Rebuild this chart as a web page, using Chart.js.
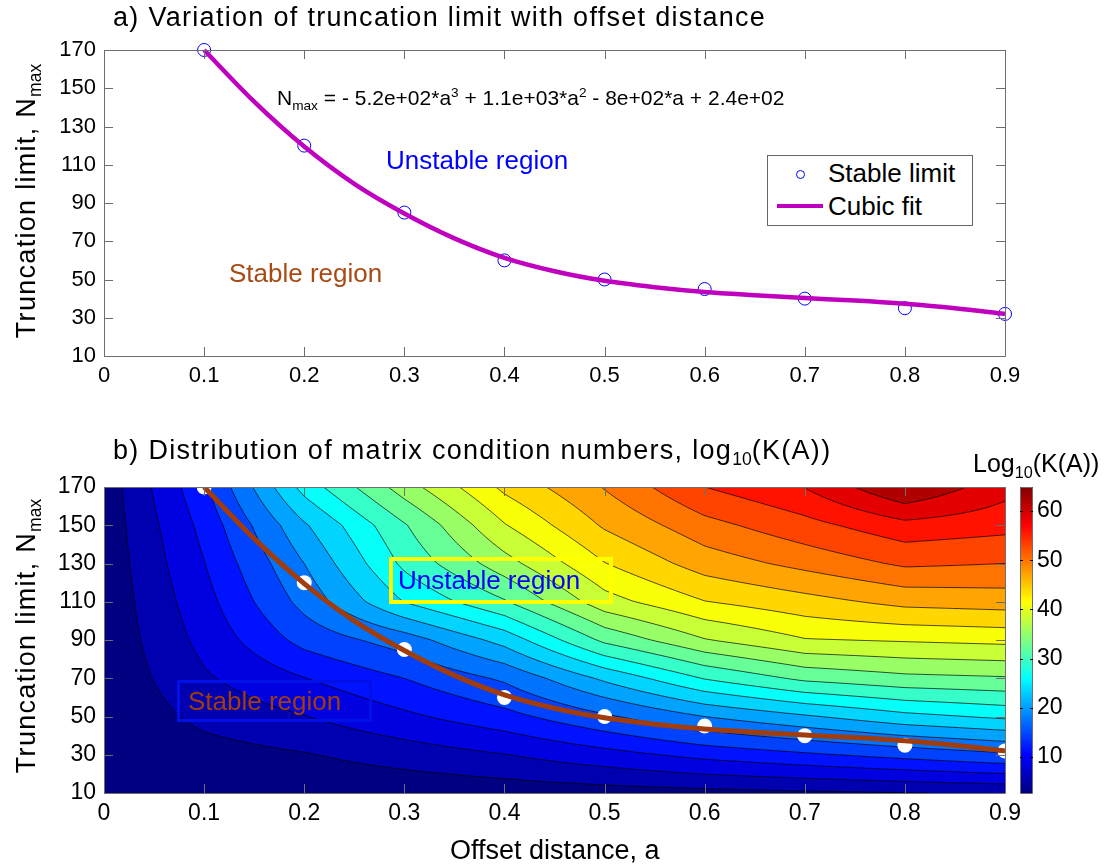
<!DOCTYPE html>
<html>
<head>
<meta charset="utf-8">
<script src="https://cdn.jsdelivr.net/npm/chart.js@4.4.0/dist/chart.umd.min.js"></script>
<style>
body { margin: 0; background: #fff; width: 1104px; height: 867px; position: relative; overflow: hidden;
       font-family: "Liberation Sans", Arial, sans-serif; color: #000; }
canvas { position: absolute; }
.txt { position: absolute; white-space: nowrap; line-height: 1; }
.title { letter-spacing: 1.3px; font-size: 27px; }
.rot { position: absolute; white-space: nowrap; line-height: 1; font-size: 27px; letter-spacing: 1.3px;
       transform: translate(-50%, -50%) rotate(-90deg); }
sub, sup { font-size: 65%; line-height: 0; letter-spacing: 0; }
</style>
</head>
<body>
<canvas id="topChart" width="1104" height="400" style="left:0;top:0"></canvas>
<canvas id="bottomChart" width="1104" height="467" style="left:0;top:400px"></canvas>
<canvas id="barChart" width="104" height="467" style="left:1000px;top:400px"></canvas>

<div class="txt title" style="left:113px;top:4px">a) Variation of truncation limit with offset distance</div>
<div class="rot" style="left:26px;top:201px">Truncation limit, N<sub>max</sub></div>
<div class="txt" style="left:277px;top:87px;font-size:21px">N<sub>max</sub> = - 5.2e+02*a<sup>3</sup> + 1.1e+03*a<sup>2</sup> - 8e+02*a + 2.4e+02</div>
<div class="txt" style="left:386px;top:147px;font-size:26px;color:#0000ff">Unstable region</div>
<div class="txt" style="left:229px;top:260px;font-size:26px;color:#a84a14">Stable region</div>
<div id="legend" style="position:absolute;left:767px;top:155px;width:204px;height:69px;border:1px solid #666;background:#fff">
  <div style="position:absolute;left:28px;top:14px;width:7px;height:7px;border:1px solid #0000ff;border-radius:50%"></div>
  <div style="position:absolute;left:9px;top:48px;width:46px;height:4px;background:#bf00bf"></div>
  <div class="txt" style="left:60px;top:4px;font-size:26px">Stable limit</div>
  <div class="txt" style="left:60px;top:37px;font-size:26px">Cubic fit</div>
</div>

<div class="txt title" style="left:113px;top:437px">b) Distribution of matrix condition numbers, log<sub>10</sub>(K(A))</div>
<div class="txt" style="left:973px;top:451px;font-size:25px">Log<sub>10</sub>(K(A))</div>
<div class="rot" style="left:26px;top:636px">Truncation limit, N<sub>max</sub></div>
<div class="txt" style="left:450px;top:837px;font-size:27px">Offset distance, a</div>
<div style="position:absolute;left:389px;top:557px;width:216px;height:39px;border:4px solid #ffff00"></div>
<div class="txt" style="left:398px;top:567px;font-size:26px;color:#0000ff">Unstable region</div>
<div style="position:absolute;left:177px;top:680px;width:189px;height:36px;border:3px solid #0010e6"></div>
<div class="txt" style="left:188px;top:688px;font-size:26px;color:#a13c0c">Stable region</div>

<script>
// axes
const xTicks = [0, 0.1, 0.2, 0.3, 0.4, 0.5, 0.6, 0.7, 0.8, 0.9];
const yTicks = [10, 30, 50, 70, 90, 110, 130, 150, 170];
const barTicks = [10, 20, 30, 40, 50, 60];

// stable limit found for each offset distance
const stableA = [0.1, 0.2, 0.3, 0.4, 0.5, 0.6, 0.7, 0.8, 0.9];
const stableN = [170, 120, 85, 60, 50, 45, 40, 35, 32];

// cubic fit
const fitA = [0.1, 0.15, 0.2, 0.25, 0.3, 0.35, 0.4, 0.45, 0.5, 0.55, 0.6, 0.65, 0.7, 0.75, 0.8, 0.85, 0.9];
const fitN = [170, 143, 119.5, 100, 84.5, 71.5, 61.3, 54.3, 49.3, 46, 43.5, 41.8, 40.3, 39, 37.3, 35, 32];

// log10(K(A)) grid, rows = nValues (bottom to top), columns = aValues
const aValues = [0, 0.1, 0.2, 0.3, 0.4, 0.5, 0.6, 0.7, 0.8, 0.9];
const nValues = [10, 30, 50, 70, 90, 110, 130, 150, 170];
const logK = [
    [2.7, 3.0, 3.3, 3.6, 4.0, 4.4, 4.8, 5.2, 5.6, 6.0],
    [3.0, 4.5, 5.5, 7.0, 8.5, 10.5, 12.5, 14.0, 15.5, 17.0],
    [3.2, 6.5, 8.5, 11.0, 13.5, 17.0, 20.5, 23.0, 25.5, 27.0],
    [3.4, 8.2, 11.5, 14.5, 18.0, 24.0, 29.5, 33.0, 34.5, 35.0],
    [3.5, 9.5, 15.5, 19.0, 24.5, 33.0, 38.0, 41.0, 41.5, 42.0],
    [3.6, 10.5, 18.5, 26.5, 32.0, 40.0, 44.0, 46.0, 48.0, 48.5],
    [3.7, 11.5, 20.5, 30.0, 37.0, 44.0, 48.5, 51.0, 53.5, 53.0],
    [3.8, 12.5, 23.0, 32.0, 41.0, 47.5, 52.0, 55.0, 58.0, 57.0],
    [3.9, 13.9, 27.5, 36.8, 44.8, 50.3, 56.0, 59.0, 64.9, 60.0]
];
const contourLevels = [5.7, 8.6, 11.6, 14.5, 17.5, 20.5, 23.4, 26.4, 29.3, 32.3,
    35.3, 38.2, 41.2, 44.1, 47.1, 50.1, 53.0, 56.0, 58.9, 61.9];

const zMin = Math.min(...logK.flat());
const zMax = Math.max(...logK.flat());

const FONT = 'Liberation Sans';
const AXIS_COLOR = '#6e6e6e';

// jet colormap, t in [0,1] -> [r,g,b] 0..255
const jet = t => {
    const c = v => Math.round(255 * Math.max(0, Math.min(1, v)));
    return [c(1.5 - Math.abs(4 * t - 3)), c(1.5 - Math.abs(4 * t - 2)), c(1.5 - Math.abs(4 * t - 1))];
};
const bandColors = [zMin, ...contourLevels].map(v => jet((v - zMin) / (zMax - zMin)));

const locate = (arr, v) => {
    let i = 0;
    while (i < arr.length - 2 && v > arr[i + 1]) i++;
    const f = (v - arr[i]) / (arr[i + 1] - arr[i]);
    return [i, Math.max(0, Math.min(1, f))];
};
const sampleLogK = (a, n) => {
    const [i, fa] = locate(aValues, a);
    const [j, fn] = locate(nValues, n);
    return (1 - fa) * (1 - fn) * logK[j][i] + fa * (1 - fn) * logK[j][i + 1]
        + (1 - fa) * fn * logK[j + 1][i] + fa * fn * logK[j + 1][i + 1];
};
const bandIndex = z => {
    let k = 0;
    while (k < contourLevels.length && z >= contourLevels[k]) k++;
    return k;
};

// filled contours + contour lines, drawn under the datasets
const contourPlugin = {
    id: 'contourFill',
    beforeDatasetsDraw(chart) {
        const { ctx, chartArea: ca, scales: { x, y } } = chart;
        const left = Math.round(ca.left), top = Math.round(ca.top);
        const w = Math.round(ca.right) - left, h = Math.round(ca.bottom) - top;
        const img = ctx.createImageData(w, h);
        for (let j = 0; j < h; j++) {
            const n = y.getValueForPixel(top + j + 0.5);
            for (let i = 0; i < w; i++) {
                const c = bandColors[bandIndex(sampleLogK(x.getValueForPixel(left + i + 0.5), n))];
                const p = (j * w + i) * 4;
                img.data[p] = c[0];
                img.data[p + 1] = c[1];
                img.data[p + 2] = c[2];
                img.data[p + 3] = 255;
            }
        }
        ctx.putImageData(img, left, top);

        // contour lines (marching squares on a fine pixel grid)
        const step = 2;
        const cols = Math.ceil(w / step) + 1, rows = Math.ceil(h / step) + 1;
        const px = c => left + Math.min(c * step, w);
        const py = r => top + Math.min(r * step, h);
        const zs = new Float32Array(cols * rows);
        for (let r = 0; r < rows; r++) {
            const n = y.getValueForPixel(py(r));
            for (let c = 0; c < cols; c++) zs[r * cols + c] = sampleLogK(x.getValueForPixel(px(c)), n);
        }
        ctx.save();
        ctx.beginPath();
        ctx.rect(ca.left, ca.top, ca.right - ca.left, ca.bottom - ca.top);
        ctx.clip();
        ctx.strokeStyle = 'rgba(0,0,0,0.85)';
        ctx.lineWidth = 0.8;
        ctx.beginPath();
        contourLevels.forEach(L => {
            for (let r = 0; r < rows - 1; r++) {
                for (let c = 0; c < cols - 1; c++) {
                    const corners = [
                        [px(c), py(r), zs[r * cols + c]],
                        [px(c + 1), py(r), zs[r * cols + c + 1]],
                        [px(c + 1), py(r + 1), zs[(r + 1) * cols + c + 1]],
                        [px(c), py(r + 1), zs[(r + 1) * cols + c]]
                    ];
                    const pts = [];
                    for (let e = 0; e < 4; e++) {
                        const p = corners[e], q = corners[(e + 1) % 4];
                        if ((p[2] < L) !== (q[2] < L)) {
                            const t = (L - p[2]) / (q[2] - p[2]);
                            pts.push([p[0] + t * (q[0] - p[0]), p[1] + t * (q[1] - p[1])]);
                        }
                    }
                    if (pts.length >= 2) { ctx.moveTo(pts[0][0], pts[0][1]); ctx.lineTo(pts[1][0], pts[1][1]); }
                    if (pts.length === 4) { ctx.moveTo(pts[2][0], pts[2][1]); ctx.lineTo(pts[3][0], pts[3][1]); }
                }
            }
        });
        ctx.stroke();
        ctx.restore();
    }
};

// MATLAB style box with inward ticks
const boxPlugin = {
    id: 'matlabBox',
    afterDatasetsDraw(chart, args, opts) {
        const { ctx, chartArea: ca, scales: { x, y } } = chart;
        const len = 9;
        ctx.save();
        ctx.strokeStyle = opts.color || AXIS_COLOR;
        ctx.lineWidth = 1;
        ctx.beginPath();
        ctx.rect(Math.round(ca.left) + 0.5, Math.round(ca.top) + 0.5,
            Math.round(ca.right - ca.left), Math.round(ca.bottom - ca.top));
        xTicks.forEach(v => {
            const px = Math.round(x.getPixelForValue(v)) + 0.5;
            ctx.moveTo(px, ca.bottom); ctx.lineTo(px, ca.bottom - len);
            ctx.moveTo(px, ca.top); ctx.lineTo(px, ca.top + len);
        });
        yTicks.forEach(v => {
            const py = Math.round(y.getPixelForValue(v)) + 0.5;
            ctx.moveTo(ca.left, py); ctx.lineTo(ca.left + len, py);
            ctx.moveTo(ca.right, py); ctx.lineTo(ca.right - len, py);
        });
        ctx.stroke();
        ctx.restore();
    }
};

// continuous jet colour bar
const colorBarPlugin = {
    id: 'colorBar',
    beforeDatasetsDraw(chart) {
        const { ctx, chartArea: ca, scales: { y } } = chart;
        for (let py = Math.round(ca.top); py < Math.round(ca.bottom); py++) {
            const c = jet((y.getValueForPixel(py + 0.5) - zMin) / (zMax - zMin));
            ctx.fillStyle = 'rgb(' + c.join(',') + ')';
            ctx.fillRect(ca.left, py, ca.right - ca.left, 1);
        }
        ctx.save();
        ctx.strokeStyle = AXIS_COLOR;
        ctx.lineWidth = 1;
        ctx.beginPath();
        ctx.rect(Math.round(ca.left) + 0.5, Math.round(ca.top) + 0.5,
            Math.round(ca.right - ca.left) - 1, Math.round(ca.bottom - ca.top));
        ctx.stroke();
        ctx.strokeStyle = '#000';
        ctx.beginPath();
        barTicks.forEach(v => {
            const py = Math.round(y.getPixelForValue(v)) + 0.5;
            ctx.moveTo(ca.left, py); ctx.lineTo(ca.left + 3, py);
            ctx.moveTo(ca.right, py); ctx.lineTo(ca.right - 3, py);
        });
        ctx.stroke();
        ctx.restore();
    }
};

const fmtA = v => (v === 0 ? '0' : v.toFixed(1));

const makeScales = (xHeight, fontSize) => ({
    x: {
        type: 'linear', min: 0, max: 0.9,
        grid: { display: false, drawTicks: false }, border: { display: false },
        afterBuildTicks: scale => { scale.ticks = xTicks.map(v => ({ value: v })); },
        afterFit: scale => { scale.height = xHeight; },
        ticks: { callback: fmtA, padding: 7, maxRotation: 0, autoSkip: false,
                 color: '#000', font: { family: FONT, size: fontSize } }
    },
    y: {
        type: 'linear', min: 10, max: 170,
        grid: { display: false, drawTicks: false }, border: { display: false },
        afterBuildTicks: scale => { scale.ticks = yTicks.map(v => ({ value: v })); },
        afterFit: scale => { scale.width = 104; },
        ticks: { padding: 8, autoSkip: false, color: '#000', font: { family: FONT, size: fontSize } }
    }
});

new Chart(document.getElementById('topChart').getContext('2d'), {
    type: 'line',
    data: {
        datasets: [{
            label: 'Cubic fit',
            data: fitA.map((a, i) => ({ x: a, y: fitN[i] })),
            borderColor: '#bf00bf',
            borderWidth: 4.5,
            pointRadius: 0,
            cubicInterpolationMode: 'monotone',
            clip: false
        }, {
            label: 'Stable limit',
            data: stableA.map((a, i) => ({ x: a, y: stableN[i] })),
            showLine: false,
            pointStyle: 'circle',
            pointRadius: 6.5,
            pointBorderWidth: 1,
            pointBorderColor: '#0000ff',
            pointBackgroundColor: 'rgba(0,0,0,0)',
            clip: false
        }]
    },
    options: {
        responsive: false,
        animation: false,
        layout: { padding: { left: 0, top: 50, right: 99, bottom: 0 } },
        scales: makeScales(44, 22),
        plugins: { legend: { display: false }, tooltip: { enabled: false }, matlabBox: {} }
    },
    plugins: [boxPlugin]
});

new Chart(document.getElementById('bottomChart').getContext('2d'), {
    type: 'line',
    data: {
        datasets: [{
            label: 'Cubic fit',
            data: fitA.map((a, i) => ({ x: a, y: fitN[i] })),
            borderColor: '#a13c0c',
            borderWidth: 5,
            pointRadius: 0,
            cubicInterpolationMode: 'monotone',
            clip: 0
        }, {
            label: 'Stable limit',
            data: stableA.map((a, i) => ({ x: a, y: stableN[i] })),
            showLine: false,
            pointStyle: 'circle',
            pointRadius: 7.5,
            pointBorderWidth: 0,
            pointBackgroundColor: '#ffffff',
            clip: 0
        }]
    },
    options: {
        responsive: false,
        animation: false,
        layout: { padding: { left: 0, top: 87, right: 99, bottom: 0 } },
        scales: makeScales(74, 23),
        plugins: { legend: { display: false }, tooltip: { enabled: false }, matlabBox: {} }
    },
    plugins: [contourPlugin, boxPlugin]
});

new Chart(document.getElementById('barChart').getContext('2d'), {
    type: 'scatter',
    data: { datasets: [] },
    options: {
        responsive: false,
        animation: false,
        layout: { padding: { left: 20, top: 87, right: 0, bottom: 74 } },
        scales: {
            x: { type: 'linear', display: false, min: 0, max: 1 },
            y: {
                type: 'linear', position: 'right', min: zMin, max: zMax,
                grid: { display: false, drawTicks: false }, border: { display: false },
                afterBuildTicks: scale => { scale.ticks = barTicks.map(v => ({ value: v })); },
                afterFit: scale => { scale.width = 71; },
                ticks: { padding: 4, color: '#000', font: { family: FONT, size: 23 } }
            }
        },
        plugins: { legend: { display: false }, tooltip: { enabled: false } }
    },
    plugins: [colorBarPlugin]
});
</script>
</body>
</html>
